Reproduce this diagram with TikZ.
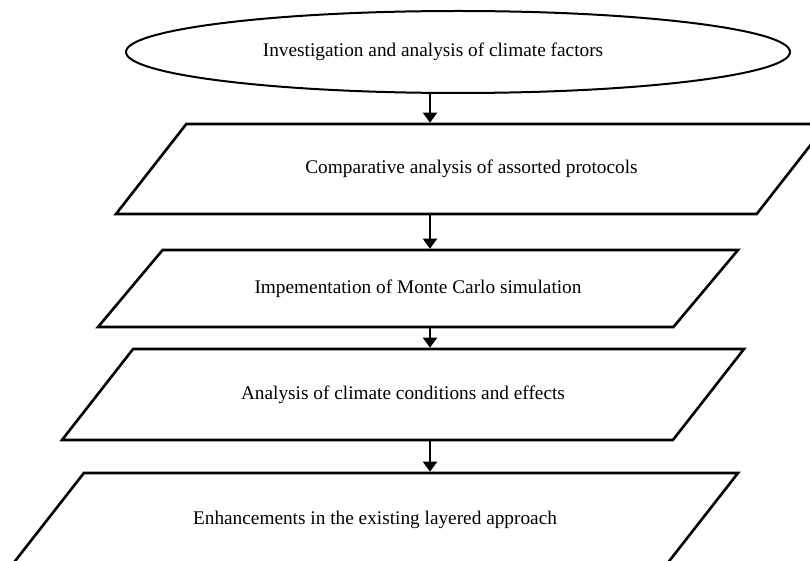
\documentclass[tikz,border=0pt]{standalone}
\usepackage{fontspec}
\setmainfont{Liberation Serif}
\usepackage{tikz}
\usetikzlibrary{arrows.meta,
	positioning,
	shapes,
	shapes.geometric
}
\tikzset{flowchart/.style = {
		x=1pt, y=-1pt,
		every node/.style = {draw, line width=2.6pt, inner xsep=2pt,
			text height=14pt, text depth=4pt,
			font=\fontsize{19.3}{23}\selectfont,
		},
		startnode/.style = {ellipse, line width=2pt},
		stepnode/.style = {trapezium, trapezium stretches body,
			trapezium left angle=52, trapezium right angle=128},
		flowarrow/.style = {line width=2pt,
			-{Triangle[length=10pt,width=14pt]}},
	}% end of flowchart style
}

\begin{document}
\begin{tikzpicture}[flowchart] % {{{-3
  \useasboundingbox (0,0) rectangle (810,561);
  \coordinate (axis) at (430,0);
  \node[startnode, minimum width=664pt, minimum height=82pt] (Fl0) at (458,52)
   {Investigation and analysis of climate factors\hspace*{50pt}};
  \node[stepnode, minimum width=711pt, inner ysep=36pt] (Fl1) at (471.5,169)
   {Comparative analysis of assorted protocols};
  \node[stepnode, trapezium left angle=50, trapezium right angle=130,
   minimum width=640pt, inner ysep=29.5pt] (Fl2) at (418,288.5)
   {Impementation of Monte Carlo simulation};
  \node[stepnode, minimum width=682pt, inner ysep=36.5pt] (Fl3) at (403,394.5)
   {Analysis of climate conditions and effects};
  \node[stepnode, minimum width=726pt, inner ysep=37pt] (Fl4) at (375,519)
   {Enhancements in the existing layered approach};

  \draw[flowarrow] (Fl0.south -| axis) -- (Fl1.north -| axis);
  \draw[flowarrow] (Fl1.south -| axis) -- (Fl2.north -| axis);
  \draw[flowarrow] (Fl2.south -| axis) -- (Fl3.north -| axis);
  \draw[flowarrow] (Fl3.south -| axis) -- (Fl4.north -| axis);
 \end{tikzpicture}
\end{document}
